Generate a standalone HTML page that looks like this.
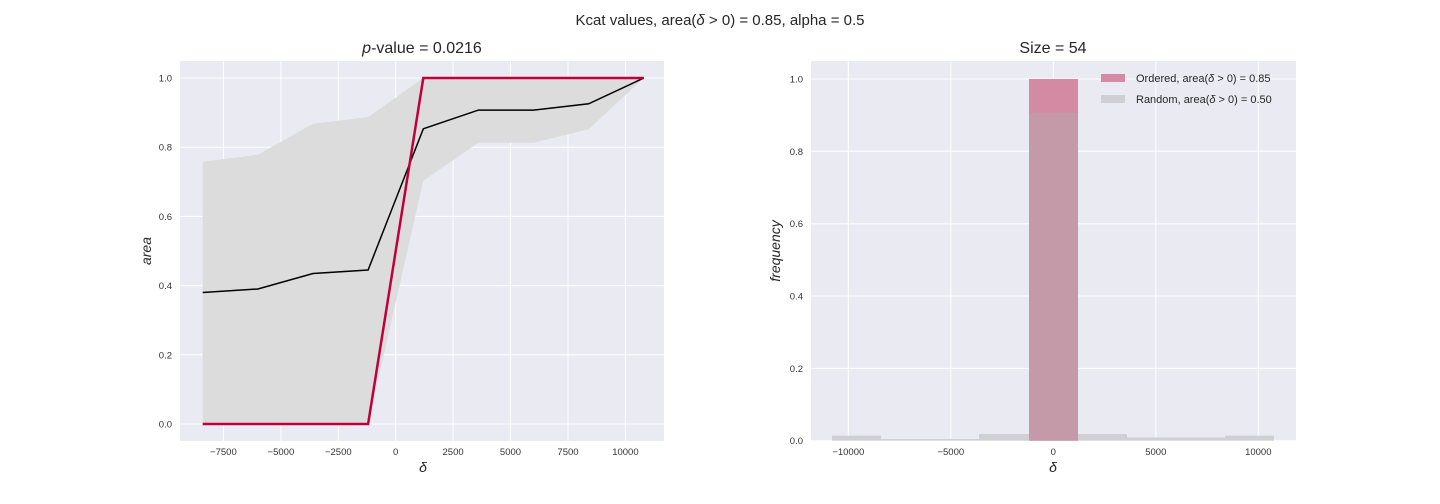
<!DOCTYPE html>
<html><head><meta charset="utf-8"><style>
html,body{margin:0;padding:0;background:#fff;}
svg{display:block;font-family:"Liberation Sans",Arial,sans-serif;}
</style></head><body>
<svg width="1440" height="504" viewBox="0 0 1440 504" xmlns="http://www.w3.org/2000/svg">
<text x="720" y="25" font-size="15" text-anchor="middle" fill="#262626">Kcat values, area(<tspan font-style="italic">δ</tspan> &gt; 0) = 0.85, alpha = 0.5</text>

<!-- LEFT -->
<rect x="180" y="61" width="484" height="380" fill="#eaeaf2"/>
<g stroke="#fff" stroke-width="1">
<line x1="223.4" y1="61" x2="223.4" y2="441"/><line x1="280.9" y1="61" x2="280.9" y2="441"/><line x1="338.3" y1="61" x2="338.3" y2="441"/><line x1="395.7" y1="61" x2="395.7" y2="441"/><line x1="453.1" y1="61" x2="453.1" y2="441"/><line x1="510.5" y1="61" x2="510.5" y2="441"/><line x1="568" y1="61" x2="568" y2="441"/><line x1="625.4" y1="61" x2="625.4" y2="441"/>
<line x1="180" y1="424" x2="664" y2="424"/><line x1="180" y1="354.8" x2="664" y2="354.8"/><line x1="180" y1="285.6" x2="664" y2="285.6"/><line x1="180" y1="216.4" x2="664" y2="216.4"/><line x1="180" y1="147.2" x2="664" y2="147.2"/><line x1="180" y1="78" x2="664" y2="78"/>
</g>
<polygon fill="#dcdcdc" points="202.7,161.7 257.9,154.8 313,123.7 368.1,117.1 423.3,78 478.4,78 533.6,78 588.7,78 643.8,78 643.8,78 588.7,129.2 533.6,142.7 478.4,142.7 423.3,180.7 368.1,424 313,424 257.9,424 202.7,424"/>
<polyline fill="none" stroke="#000" stroke-width="1.5" points="202.7,292.5 257.9,289 313,273.5 368.1,270 423.3,128.8 478.4,110.1 533.6,110.1 588.7,103.8 643.8,78"/>
<polyline fill="none" stroke="#c0003c" stroke-width="2.5" points="202.7,424 368.1,424 423.3,78 643.8,78"/>
<g font-size="9.5" fill="#333" text-anchor="middle">
<text x="223.4" y="455">−7500</text><text x="280.9" y="455">−5000</text><text x="338.3" y="455">−2500</text><text x="395.7" y="455">0</text><text x="453.1" y="455">2500</text><text x="510.5" y="455">5000</text><text x="568" y="455">7500</text><text x="625.4" y="455">10000</text>
</g>
<g font-size="9.5" fill="#333" text-anchor="end">
<text x="172" y="427.5">0.0</text><text x="172" y="358.3">0.2</text><text x="172" y="289.1">0.4</text><text x="172" y="219.9">0.6</text><text x="172" y="150.7">0.8</text><text x="172" y="81.5">1.0</text>
</g>
<text x="422" y="53" font-size="16" text-anchor="middle" fill="#262626"><tspan font-style="italic">p</tspan>-value = 0.0216</text>
<text x="423" y="472" font-size="14" font-style="italic" text-anchor="middle" fill="#262626">δ</text>
<text transform="translate(151,251) rotate(-90)" font-size="14" font-style="italic" text-anchor="middle" fill="#262626">area</text>

<!-- RIGHT -->
<rect x="811" y="61" width="485" height="380" fill="#eaeaf2"/>
<g stroke="#fff" stroke-width="1">
<line x1="848.3" y1="61" x2="848.3" y2="441"/><line x1="950.8" y1="61" x2="950.8" y2="441"/><line x1="1053.3" y1="61" x2="1053.3" y2="441"/><line x1="1155.8" y1="61" x2="1155.8" y2="441"/><line x1="1258.3" y1="61" x2="1258.3" y2="441"/>
<line x1="811" y1="440.7" x2="1296" y2="440.7"/><line x1="811" y1="368.4" x2="1296" y2="368.4"/><line x1="811" y1="296" x2="1296" y2="296"/><line x1="811" y1="223.7" x2="1296" y2="223.7"/><line x1="811" y1="151.3" x2="1296" y2="151.3"/><line x1="811" y1="79" x2="1296" y2="79"/>
</g>
<rect x="1029" y="79" width="49" height="361.7" fill="#d58aa3"/>
<g fill="#d0cfd3">
<rect x="832" y="435.7" width="49" height="5"/><rect x="881" y="439" width="49" height="1.7"/><rect x="930" y="439" width="49" height="1.7"/><rect x="979" y="434" width="50" height="6.7"/><rect x="1078" y="434" width="49" height="6.7"/><rect x="1127" y="437.4" width="49" height="3.3"/><rect x="1176" y="437.4" width="49" height="3.3"/><rect x="1225" y="435.7" width="49" height="5"/>
</g>
<rect x="1029" y="112.7" width="49" height="328" fill="#c49aa8"/>
<rect x="1101" y="74" width="24" height="8" fill="#d58aa3"/>
<rect x="1101" y="95" width="24" height="8" fill="#d0cfd3"/>
<g font-size="11" fill="#262626">
<text x="1136" y="82">Ordered, area(<tspan font-style="italic">δ</tspan> &gt; 0) = 0.85</text>
<text x="1136" y="103">Random, area(<tspan font-style="italic">δ</tspan> &gt; 0) = 0.50</text>
</g>
<g font-size="9.5" fill="#333" text-anchor="middle">
<text x="848.3" y="455">−10000</text><text x="950.8" y="455">−5000</text><text x="1053.3" y="455">0</text><text x="1155.8" y="455">5000</text><text x="1258.3" y="455">10000</text>
</g>
<g font-size="9.5" fill="#333" text-anchor="end">
<text x="803" y="444.2">0.0</text><text x="803" y="371.9">0.2</text><text x="803" y="299.5">0.4</text><text x="803" y="227.2">0.6</text><text x="803" y="154.8">0.8</text><text x="803" y="82.5">1.0</text>
</g>
<text x="1053" y="53" font-size="16" text-anchor="middle" fill="#262626">Size = 54</text>
<text x="1053" y="472" font-size="14" font-style="italic" text-anchor="middle" fill="#262626">δ</text>
<text transform="translate(780,251) rotate(-90)" font-size="14" font-style="italic" text-anchor="middle" fill="#262626">frequency</text>
</svg>
</body></html>
